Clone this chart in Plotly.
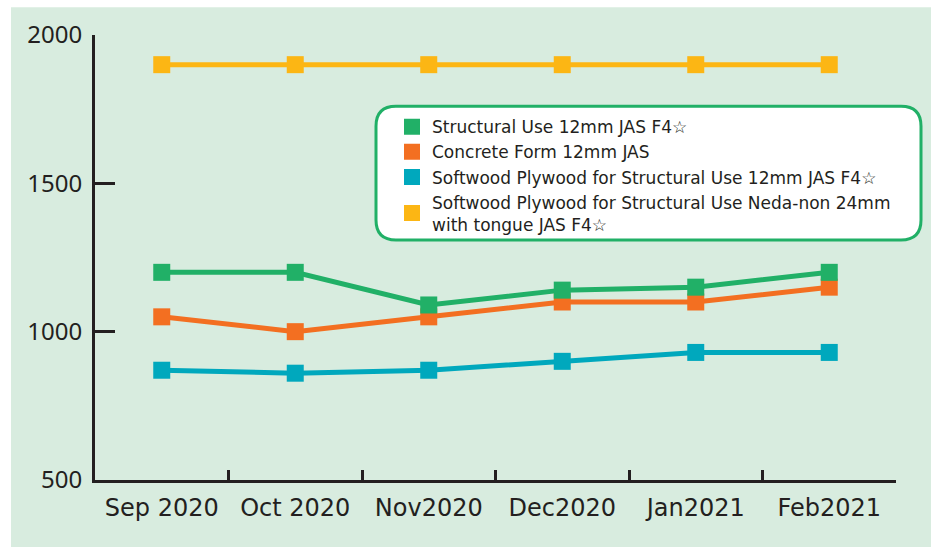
import plotly.graph_objects as go

months = ["Sep 2020", "Oct 2020", "Nov2020", "Dec2020", "Jan2021", "Feb2021"]
structural = [1200, 1200, 1090, 1140, 1150, 1200]
concrete = [1050, 1000, 1050, 1100, 1100, 1150]
softwood12 = [870, 860, 870, 900, 930, 930]
softwood24 = [1900, 1900, 1900, 1900, 1900, 1900]

names = [
    "Structural Use 12mm JAS F4☆",
    "Concrete Form 12mm JAS",
    "Softwood Plywood for Structural Use 12mm JAS F4☆",
    "Softwood Plywood for Structural Use Neda-non 24mm<br>with tongue JAS F4☆",
]
colors = ["#21b067", "#f36f21", "#00a8bd", "#fcb614"]
series = [structural, concrete, softwood12, softwood24]

W, H = 931, 547
ML, MR, MT, MB = 95, 35, 34.7, 66.5
PW, PH = W - ML - MR, H - MT - MB

def px(x):
    return (x - ML) / PW

def py(y):
    return (H - MB - y) / PH

fig = go.Figure()
for vals, c in zip(series[::-1], colors[::-1]):
    fig.add_trace(go.Scatter(
        x=months, y=vals, mode="lines+markers",
        line=dict(color=c, width=5),
        marker=dict(symbol="square", size=17, color=c),
        showlegend=False, cliponaxis=False,
    ))
for n, c in zip(names, colors):
    fig.add_trace(go.Scatter(
        x=[None], y=[None], mode="markers", name=n,
        marker=dict(symbol="square", size=18, color=c),
    ))

x0, x1 = px(376), px(921)
y0, y1 = py(240), py(106)
rx, ry = 20 / PW, 20 / PH
path = (f"M {x0+rx},{y1} L {x1-rx},{y1} Q {x1},{y1} {x1},{y1-ry} "
        f"L {x1},{y0+ry} Q {x1},{y0} {x1-rx},{y0} "
        f"L {x0+rx},{y0} Q {x0},{y0} {x0},{y0+ry} "
        f"L {x0},{y1-ry} Q {x0},{y1} {x0+rx},{y1} Z")

shapes = [
    dict(type="rect", xref="paper", yref="paper",
         x0=px(11), x1=px(W + 5), y0=py(H + 5), y1=py(7),
         fillcolor="#d8ecdf", line=dict(width=0), layer="below"),
    dict(type="path", xref="paper", yref="paper", path=path,
         fillcolor="white", line=dict(color="#21b067", width=3), layer="below"),
]

fig.update_layout(
    width=W, height=H,
    margin=dict(l=ML, r=MR, t=MT, b=MB),
    paper_bgcolor="white", plot_bgcolor="rgba(0,0,0,0)",
    shapes=shapes,
    showlegend=True,
    legend=dict(
        x=px(392), y=py(109), xanchor="left", yanchor="top",
        bgcolor="rgba(0,0,0,0)", borderwidth=0,
        font=dict(family="DejaVu Sans", size=17, color="#231f20"),
        tracegroupgap=0, itemsizing="trace",
    ),
    xaxis=dict(
        type="category", range=[-0.5, 5.5],
        showgrid=False, zeroline=False,
        showline=True, linecolor="#231f20", linewidth=3,
        ticks="inside", ticklen=10, tickwidth=3, tickcolor="#231f20",
        tickson="boundaries",
        tickfont=dict(family="DejaVu Sans", size=24, color="#231f20"),
        ticklabelstandoff=4,
    ),
    yaxis=dict(
        range=[500, 2000], tickvals=[500, 1000, 1500, 2000],
        showgrid=False, zeroline=False,
        showline=True, linecolor="#231f20", linewidth=3,
        ticks="inside", ticklen=20, tickwidth=3, tickcolor="#231f20",
        tickfont=dict(family="Noto Sans", size=24, color="#231f20"),
        ticklabelstandoff=5,
    ),
)

fig.write_html("out.html")
